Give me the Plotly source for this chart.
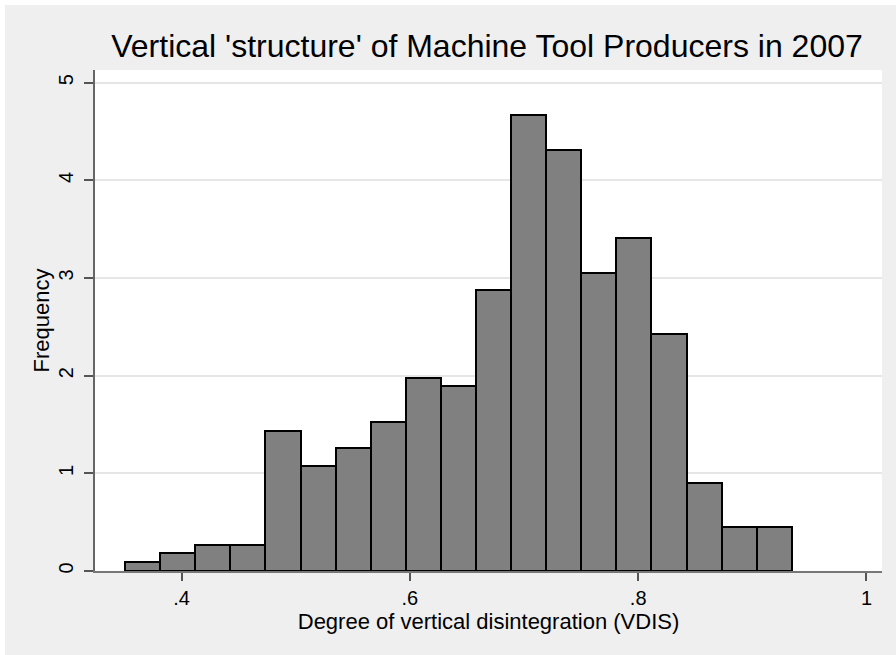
import plotly.graph_objects as go

# Histogram data (density values)
bin_start = 0.3505
bin_width = 0.03074
heights = [0.09, 0.18, 0.27, 0.27, 1.43, 1.08, 1.26, 1.53, 1.98, 1.89,
           2.88, 4.67, 4.31, 3.05, 3.41, 2.43, 0.90, 0.45, 0.45]
x_ticks = [0.4, 0.6, 0.8, 1.0]
x_tick_labels = [".4", ".6", ".8", "1"]
y_ticks = [0, 1, 2, 3, 4, 5]
y_tick_labels = ["0", "1", "2", "3", "4", "5"]

centers = [bin_start + bin_width * (i + 0.5) for i in range(len(heights))]

FONT = "Liberation Sans, Arial, sans-serif"
BG = "#efefef"

fig = go.Figure(go.Bar(
    x=centers, y=heights, width=[bin_width] * len(heights),
    marker=dict(color="#808080", line=dict(color="black", width=2)),
    hoverinfo="x+y",
))

W, H = 896, 655
L, R, T, B = 95, 14, 70, 84
pw, ph = W - L - R, H - T - B

def px2x(px):
    return (px - L) / pw

def py2y(py):
    return (H - B - py) / ph

fig.update_layout(
    width=W, height=H,
    margin=dict(l=L, r=R, t=T, b=B),
    paper_bgcolor=BG, plot_bgcolor="white",
    font=dict(family=FONT, color="black"),
    title=dict(text="Vertical 'structure' of Machine Tool Producers in 2007",
               font=dict(size=32, family=FONT, color="black"),
               x=(487) / W, xanchor="center", y=1 - 46 / H, yanchor="middle"),
    showlegend=False,
    bargap=0,
    shapes=[
        dict(type="rect", xref="paper", yref="paper", layer="below",
             x0=px2x(0), x1=px2x(W), y0=py2y(0), y1=py2y(5),
             fillcolor="white", line=dict(width=0)),
        dict(type="rect", xref="paper", yref="paper", layer="below",
             x0=px2x(0), x1=px2x(5), y0=py2y(H), y1=py2y(0),
             fillcolor="white", line=dict(width=0)),
    ],
)

fig.update_xaxes(
    range=[0.3241, 1.0136],
    tickvals=x_ticks, ticktext=x_tick_labels,
    ticks="outside", ticklen=8, tickwidth=1.5, tickcolor="#555555",
    showline=True, linecolor="#777777", linewidth=1.5,
    showgrid=False, zeroline=False,
    tickfont=dict(size=20, family=FONT, color="black"),
    title=dict(text="Degree of vertical disintegration (VDIS)",
               font=dict(size=22, family=FONT, color="black"), standoff=0),
)
fig.update_yaxes(
    range=[0, 5.13],
    tickvals=y_ticks, ticktext=y_tick_labels, tickangle=-90,
    ticks="outside", ticklen=9, tickwidth=1.5, tickcolor="#555555",
    showline=True, linecolor="#666666", linewidth=1.5,
    showgrid=True, gridcolor="#e6e6e6", gridwidth=1.5, zeroline=False,
    tickfont=dict(size=20, family=FONT, color="black"),
    ticklabelstandoff=3,
    title=dict(text="Frequency", font=dict(size=22, family=FONT, color="black"),
               standoff=0),
)

fig.write_html("out.html", config={"displayModeBar": False},
               post_script="document.body.style.margin='0px';")
